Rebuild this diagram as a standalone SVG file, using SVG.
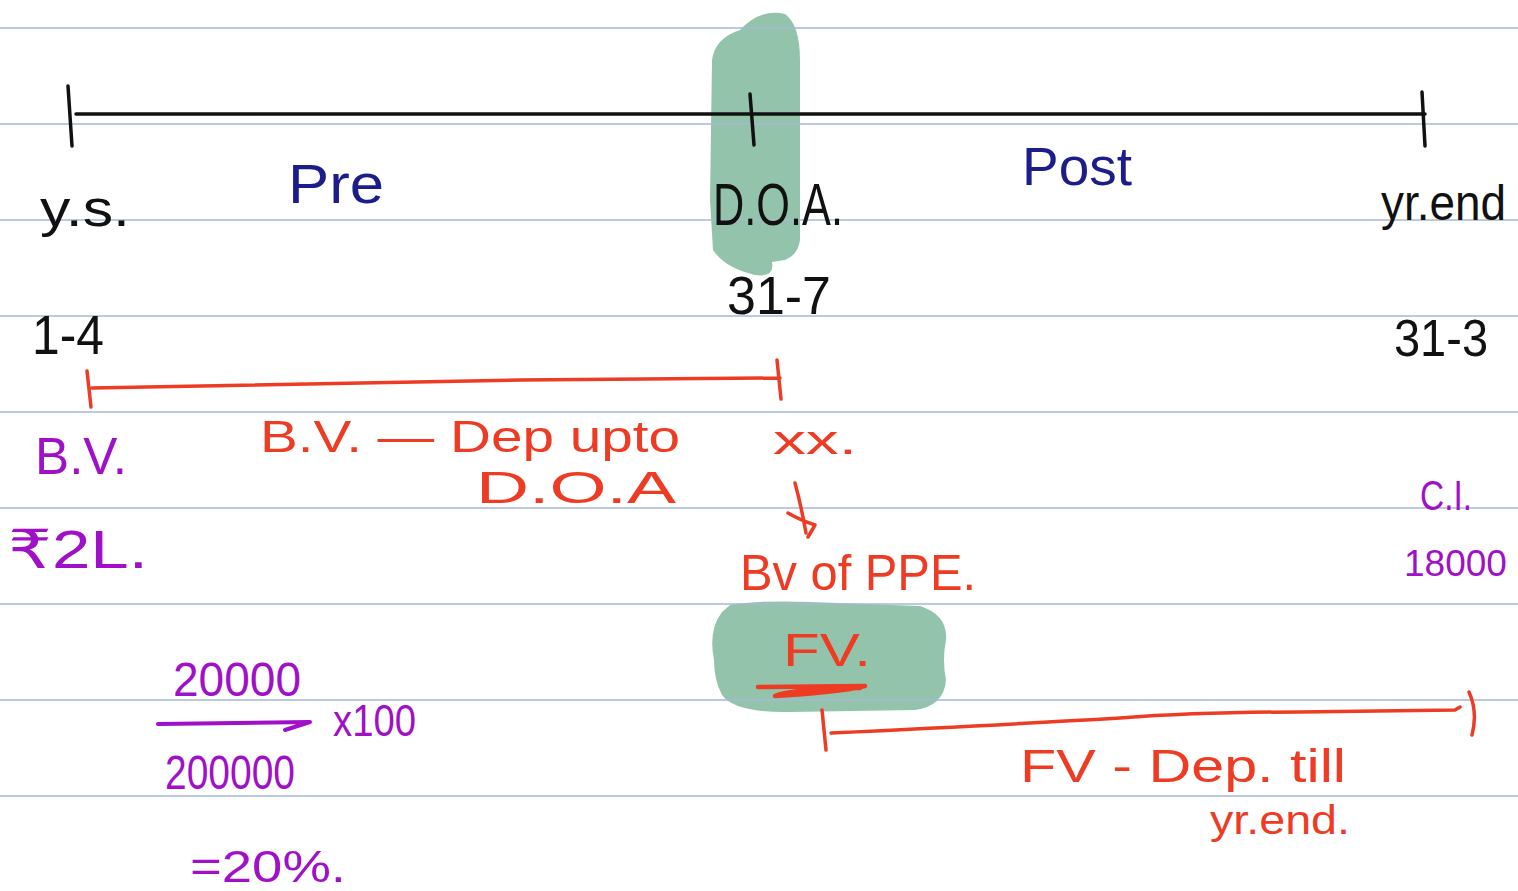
<svg xmlns="http://www.w3.org/2000/svg" width="1518" height="891" viewBox="0 0 1518 891">
<style>
.hl{fill:#93c4ab}
.rule{stroke:#a4b8d4;stroke-width:1.5}
.ink{fill:none;stroke-linecap:round;stroke-linejoin:round}
.blk{stroke:#111}
.red{stroke:#ee3b24}
.pur{stroke:#a010c8}
text{font-family:"Liberation Sans","DejaVu Sans",sans-serif}
.tb{fill:#111}
.tn{fill:#1c1c8a}
.tr{fill:#ee3b24}
.tp{fill:#a010c8}
</style>
<rect width="1518" height="891" fill="#fff"/>
<g id="highlights">
<path class="hl" d="M740,30 Q760,8 785,14 Q800,25 800,60 L800,240 Q798,255 785,260 L772,262 Q775,278 755,275 Q725,268 713,250 L710,200 L712,60 Q715,38 740,30 Z"/>
<path class="hl" d="M730,605 Q760,600 810,602 L920,606 Q948,615 946,640 Q942,660 946,680 Q944,706 915,710 L790,712 Q735,713 722,695 Q714,680 714,660 Q708,630 722,612 Z"/>
</g>
<g id="rules">
<line class="rule" x1="0" y1="28" x2="1518" y2="28"/>
<line class="rule" x1="0" y1="124" x2="1518" y2="124"/>
<line class="rule" x1="0" y1="220" x2="1518" y2="220"/>
<line class="rule" x1="0" y1="316" x2="1518" y2="316"/>
<line class="rule" x1="0" y1="412" x2="1518" y2="412"/>
<line class="rule" x1="0" y1="508" x2="1518" y2="508"/>
<line class="rule" x1="0" y1="604" x2="1518" y2="604"/>
<line class="rule" x1="0" y1="700" x2="1518" y2="700"/>
<line class="rule" x1="0" y1="796" x2="1518" y2="796"/>
</g>
<g id="connectors">
<path class="ink blk" stroke-width="3.5" d="M76,114 L1425,114"/>
<path class="ink blk" stroke-width="3.5" d="M68,86 L72,146"/>
<path class="ink blk" stroke-width="3.5" d="M750,94 L754,145"/>
<path class="ink blk" stroke-width="3.5" d="M1422,92 L1425,146"/>
<path class="ink red" stroke-width="3.5" d="M87,371 L91,407 M92,388 Q300,385 520,380 L780,378 M777,360 L781,399"/>
<path class="ink red" stroke-width="3.5" d="M795,483 Q801,505 806,533 M788,513 Q800,520 815,525 L808,537"/>
<path class="ink red" stroke-width="4.5" d="M758,687 L865,686 Q840,692 775,696 Q790,689 860,688"/>
<path class="ink red" stroke-width="3.5" d="M822,710 L826,750 M831,733 Q1000,725 1120,718 Q1200,712 1300,712 L1455,710 L1460,707 M1469,692 Q1478,712 1472,735"/>
<path class="ink pur" stroke-width="4" d="M158,724 L310,722 L285,730"/>
</g>
<g id="timeline-labels">
<text class="tb" x="40" y="226" font-size="52" textLength="90" lengthAdjust="spacingAndGlyphs">y.s.</text>
<text class="tn" x="288" y="203" font-size="56" textLength="96" lengthAdjust="spacingAndGlyphs">Pre</text>
<text class="tb" x="713" y="225" font-size="60" textLength="130" lengthAdjust="spacingAndGlyphs">D.O.A.</text>
<text class="tn" x="1022" y="185" font-size="54" textLength="110" lengthAdjust="spacingAndGlyphs">Post</text>
<text class="tb" x="1381" y="220" font-size="50" textLength="125" lengthAdjust="spacingAndGlyphs">yr.end</text>
<text class="tb" x="32" y="354" font-size="56" textLength="72" lengthAdjust="spacingAndGlyphs">1-4</text>
<text class="tb" x="727" y="314" font-size="54" textLength="104" lengthAdjust="spacingAndGlyphs">31-7</text>
<text class="tb" x="1394" y="356" font-size="52" textLength="94" lengthAdjust="spacingAndGlyphs">31-3</text>
</g>
<g id="pre-notes">
<text class="tp" x="35" y="474" font-size="52" textLength="92" lengthAdjust="spacingAndGlyphs">B.V.</text>
<text class="tp" x="8" y="568" font-size="54" textLength="140" lengthAdjust="spacingAndGlyphs">₹2L.</text>
<text class="tr" x="260" y="452" font-size="44" textLength="420" lengthAdjust="spacingAndGlyphs">B.V. — Dep upto</text>
<text class="tr" x="476" y="503" font-size="44" textLength="200" lengthAdjust="spacingAndGlyphs">D.O.A</text>
</g>
<g id="doa-notes">
<text class="tr" x="773" y="454" font-size="40" textLength="84" lengthAdjust="spacingAndGlyphs">xx.</text>
<text class="tr" x="740" y="590" font-size="50" textLength="236" lengthAdjust="spacingAndGlyphs">Bv of PPE.</text>
<text class="tr" x="783" y="666" font-size="46" textLength="88" lengthAdjust="spacingAndGlyphs">FV.</text>
</g>
<g id="post-notes">
<text class="tr" x="1020" y="782" font-size="46" textLength="326" lengthAdjust="spacingAndGlyphs">FV - Dep. till</text>
<text class="tr" x="1210" y="834" font-size="40" textLength="140" lengthAdjust="spacingAndGlyphs">yr.end.</text>
<text class="tp" x="1420" y="510" font-size="42" textLength="52" lengthAdjust="spacingAndGlyphs">C.I.</text>
<text class="tp" x="1404" y="576" font-size="37">18000</text>
</g>
<g id="calc">
<text class="tp" x="173" y="696" font-size="48" textLength="128" lengthAdjust="spacingAndGlyphs">20000</text>
<text class="tp" x="333" y="736" font-size="44" textLength="83" lengthAdjust="spacingAndGlyphs">x100</text>
<text class="tp" x="165" y="789" font-size="48" textLength="130" lengthAdjust="spacingAndGlyphs">200000</text>
<text class="tp" x="190" y="882" font-size="44" textLength="156" lengthAdjust="spacingAndGlyphs">=20%.</text>
</g>
</svg>
